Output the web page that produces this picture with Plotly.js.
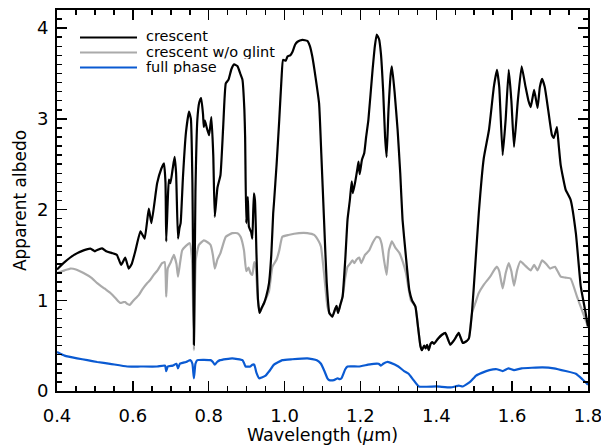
<!DOCTYPE html>
<html>
<head>
<meta charset="utf-8">
<script src="https://cdn.plot.ly/plotly-3.0.1.min.js"></script>
<style>html,body{margin:0;padding:0;background:#fff;}#chart{width:601px;height:445px;}</style>
</head>
<body>
<div id="chart"></div>
<script>
// crescent (with glint)
var wlCrescent = [0.400,0.420,0.445,0.470,0.488,0.500,0.506,0.519,0.530,0.545,0.558,0.569,0.580,0.589,0.597,0.607,0.620,0.631,0.642,0.649,0.664,0.675,0.682,0.686,0.688,0.692,0.695,0.699,0.705,0.710,0.714,0.719,0.723,0.726,0.732,0.740,0.748,0.753,0.757,0.761,0.765,0.770,0.775,0.780,0.785,0.787,0.790,0.795,0.801,0.807,0.812,0.816,0.823,0.831,0.838,0.845,0.852,0.860,0.867,0.876,0.883,0.889,0.894,0.896,0.899,0.903,0.906,0.912,0.915,0.919,0.922,0.926,0.930,0.934,0.940,0.946,0.952,0.959,0.965,0.970,0.972,0.979,0.986,0.992,0.996,1.003,1.008,1.015,1.021,1.028,1.034,1.047,1.060,1.067,1.073,1.082,1.091,1.097,1.104,1.111,1.118,1.126,1.133,1.137,1.141,1.147,1.153,1.160,1.166,1.172,1.177,1.180,1.186,1.192,1.195,1.198,1.204,1.210,1.215,1.221,1.232,1.238,1.243,1.249,1.254,1.260,1.265,1.269,1.274,1.280,1.283,1.290,1.298,1.305,1.311,1.320,1.329,1.336,1.345,1.352,1.358,1.362,1.368,1.372,1.376,1.380,1.385,1.389,1.394,1.405,1.415,1.424,1.430,1.437,1.447,1.459,1.465,1.470,1.480,1.486,1.494,1.503,1.512,1.525,1.539,1.552,1.560,1.566,1.575,1.583,1.591,1.598,1.605,1.615,1.625,1.635,1.643,1.649,1.658,1.667,1.673,1.679,1.686,1.695,1.705,1.710,1.718,1.723,1.728,1.741,1.754,1.768,1.781,1.792,1.800];
var albCrescent = [1.34,1.42,1.50,1.55,1.57,1.54,1.555,1.573,1.54,1.52,1.50,1.39,1.47,1.35,1.40,1.55,1.76,1.68,2.01,1.85,2.29,2.45,2.51,2.30,1.65,2.10,2.33,2.29,2.45,2.58,2.40,1.68,1.80,1.85,2.35,2.85,3.08,3.00,2.30,0.51,2.20,2.99,3.18,3.23,3.05,2.91,2.98,2.90,2.82,3.02,2.60,1.92,2.24,2.38,2.90,3.39,3.43,3.55,3.60,3.58,3.50,3.43,3.10,2.80,1.85,2.14,1.81,1.75,1.68,2.18,2.10,1.50,1.00,0.86,0.92,0.97,1.05,1.19,1.50,1.96,2.07,2.50,2.99,3.45,3.65,3.64,3.69,3.70,3.74,3.82,3.85,3.87,3.86,3.80,3.69,3.45,3.17,2.60,1.89,1.20,0.86,0.82,0.90,0.94,0.86,0.95,1.04,1.45,1.89,2.10,2.31,2.18,2.30,2.45,2.53,2.39,2.55,2.62,2.80,2.99,3.54,3.80,3.93,3.88,3.72,3.30,2.80,2.58,3.10,3.50,3.58,3.30,2.88,2.40,1.89,1.48,1.11,1.00,0.93,0.70,0.50,0.45,0.50,0.47,0.51,0.45,0.52,0.54,0.52,0.58,0.62,0.64,0.58,0.51,0.56,0.64,0.58,0.53,0.55,0.58,0.86,1.40,1.96,2.56,2.88,3.36,3.54,3.35,2.60,3.00,3.54,3.20,2.69,3.20,3.58,3.36,3.20,3.13,3.32,3.12,3.35,3.44,3.35,3.10,2.82,2.79,2.91,2.70,2.49,2.22,2.11,1.74,1.15,0.90,0.71];

// crescent without glint
var wlNoGlint = [0.400,0.420,0.435,0.450,0.470,0.490,0.506,0.525,0.541,0.555,0.567,0.575,0.580,0.585,0.592,0.600,0.616,0.625,0.638,0.645,0.655,0.665,0.677,0.684,0.688,0.692,0.700,0.708,0.715,0.719,0.724,0.730,0.740,0.750,0.756,0.761,0.766,0.774,0.787,0.797,0.805,0.811,0.816,0.823,0.831,0.845,0.862,0.876,0.884,0.893,0.899,0.905,0.910,0.915,0.920,0.924,0.928,0.934,0.946,0.959,0.968,0.979,0.986,0.994,1.010,1.038,1.060,1.078,1.090,1.096,1.104,1.113,1.118,1.126,1.133,1.137,1.141,1.147,1.153,1.160,1.166,1.172,1.179,1.184,1.190,1.197,1.202,1.212,1.223,1.233,1.243,1.250,1.256,1.262,1.269,1.275,1.283,1.292,1.303,1.312,1.320,1.333,1.345,1.352,1.358,1.362,1.368,1.372,1.376,1.380,1.385,1.389,1.394,1.405,1.415,1.424,1.430,1.437,1.447,1.459,1.465,1.470,1.480,1.486,1.494,1.503,1.512,1.525,1.542,1.552,1.560,1.566,1.575,1.583,1.591,1.598,1.605,1.613,1.622,1.635,1.649,1.658,1.667,1.679,1.690,1.700,1.713,1.720,1.728,1.741,1.754,1.771,1.785,1.800];
var albNoGlint = [1.30,1.33,1.35,1.34,1.30,1.25,1.19,1.13,1.08,1.02,0.97,0.98,0.98,0.96,0.95,0.99,1.06,1.12,1.19,1.22,1.28,1.33,1.41,1.42,1.04,1.35,1.42,1.50,1.40,1.26,1.40,1.55,1.60,1.63,1.45,0.45,1.45,1.61,1.66,1.64,1.61,1.50,1.35,1.45,1.52,1.70,1.74,1.74,1.70,1.55,1.32,1.36,1.30,1.28,1.42,1.37,1.10,0.86,0.97,1.10,1.37,1.45,1.55,1.70,1.72,1.74,1.74,1.72,1.65,1.59,1.30,0.93,0.86,0.82,0.90,0.94,0.86,0.95,1.04,1.25,1.37,1.40,1.44,1.41,1.45,1.47,1.41,1.50,1.55,1.64,1.70,1.69,1.62,1.45,1.28,1.55,1.65,1.58,1.52,1.42,1.30,1.00,0.93,0.70,0.50,0.45,0.50,0.47,0.51,0.45,0.52,0.54,0.52,0.58,0.62,0.64,0.58,0.51,0.56,0.64,0.58,0.53,0.55,0.58,0.86,0.97,1.08,1.17,1.26,1.33,1.37,1.32,1.13,1.30,1.41,1.32,1.16,1.33,1.43,1.38,1.33,1.39,1.33,1.44,1.40,1.35,1.37,1.32,1.26,1.25,1.24,1.04,0.88,0.71];

// full phase
var wlFull = [0.400,0.420,0.453,0.480,0.506,0.540,0.585,0.620,0.664,0.685,0.688,0.692,0.705,0.715,0.719,0.724,0.740,0.752,0.757,0.761,0.765,0.770,0.805,0.811,0.816,0.822,0.830,0.862,0.889,0.893,0.897,0.910,0.915,0.920,0.926,0.933,0.940,0.950,0.960,0.972,0.994,1.020,1.060,1.085,1.096,1.105,1.113,1.118,1.130,1.140,1.145,1.150,1.160,1.166,1.195,1.220,1.235,1.248,1.254,1.260,1.270,1.280,1.300,1.315,1.327,1.340,1.354,1.400,1.437,1.450,1.459,1.470,1.489,1.505,1.520,1.540,1.560,1.575,1.590,1.605,1.625,1.680,1.710,1.741,1.768,1.785,1.800];
var albFull = [0.43,0.39,0.36,0.34,0.32,0.30,0.27,0.27,0.27,0.28,0.22,0.27,0.28,0.30,0.25,0.30,0.32,0.34,0.30,0.14,0.30,0.34,0.34,0.32,0.29,0.32,0.34,0.36,0.34,0.31,0.27,0.27,0.29,0.29,0.20,0.14,0.15,0.17,0.22,0.29,0.34,0.35,0.36,0.34,0.30,0.22,0.14,0.12,0.12,0.14,0.13,0.14,0.24,0.27,0.27,0.29,0.30,0.30,0.28,0.30,0.32,0.31,0.27,0.22,0.19,0.12,0.05,0.05,0.04,0.05,0.06,0.05,0.10,0.17,0.20,0.23,0.24,0.22,0.25,0.23,0.25,0.26,0.25,0.22,0.19,0.13,0.07];

var seriesNames = ['crescent', 'crescent w/o glint', 'full phase'];
var seriesColors = ['#000000', '#aaaaaa', '#0a5ad2'];
var xTickVals = [0.4,0.6,0.8,1.0,1.2,1.4,1.6,1.8];
var xTickText = ['0.4','0.6','0.8','1.0','1.2','1.4','1.6','1.8'];
var yTickVals = [0,1,2,3,4];
var yTickText = ['0','1','2','3','4'];

var FONT = 'DejaVu Sans, Verdana, sans-serif';

function lineStyle(c){ return {color: c, width: 2.2, shape: 'spline', smoothing: 0.4}; }
var traces = [
  {x: wlNoGlint, y: albNoGlint, name: seriesNames[1], type: 'scatter', mode: 'lines', line: lineStyle(seriesColors[1])},
  {x: wlCrescent, y: albCrescent, name: seriesNames[0], type: 'scatter', mode: 'lines', line: lineStyle(seriesColors[0])},
  {x: wlFull, y: albFull, name: seriesNames[2], type: 'scatter', mode: 'lines', line: lineStyle(seriesColors[2])}
];

// manual legend (line samples + labels) in paper coordinates
var shapes = [], annotations = [];
var L = 57, R = 588, T = 10, B = 391;
function px2paperX(p){ return (p - L) / (R - L); }
function py2paperY(p){ return (B - p) / (B - T); }
var legendRows = [37.5, 52.5, 67.5];
for (var i = 0; i < 3; i++) {
  shapes.push({type: 'line', xref: 'paper', yref: 'paper',
    x0: px2paperX(80), x1: px2paperX(137), y0: py2paperY(legendRows[i]), y1: py2paperY(legendRows[i]),
    line: {color: seriesColors[i], width: 2.2}});
  annotations.push({xref: 'paper', yref: 'paper', x: px2paperX(145), y: py2paperY(legendRows[i] - 1),
    xanchor: 'left', yanchor: 'middle', text: seriesNames[i], showarrow: false,
    height: 14, borderpad: 0,
    font: {family: FONT, size: 14.5, color: '#000'}});
}

var axisCommon = {
  showgrid: false, zeroline: false, showline: true, linecolor: '#000', linewidth: 2,
  mirror: 'allticks', ticks: 'inside', ticklen: 10, tickwidth: 1.5, tickcolor: '#000',
  ticklabeloverflow: 'allow',
  tickfont: {family: FONT, size: 18, color: '#000'}
};

var layout = {
  width: 601, height: 445,
  margin: {l: L, r: 601 - R, t: T, b: 445 - B},
  paper_bgcolor: '#fff', plot_bgcolor: '#fff',
  showlegend: false,
  xaxis: Object.assign({}, axisCommon, {
    range: [0.4, 1.8], tickmode: 'array', tickvals: xTickVals, ticktext: xTickText,
    ticklabelstandoff: 7,
    minor: {dtick: 0.05, ticks: 'inside', ticklen: 5, tickwidth: 1.5, tickcolor: '#000'},
    title: {text: 'Wavelength (<i>μ</i>m)', font: {family: FONT, size: 17.5, color: '#000'}, standoff: 2}
  }),
  yaxis: Object.assign({}, axisCommon, {
    range: [0, 4.2], tickmode: 'array', tickvals: yTickVals, ticktext: yTickText,
    ticklabelstandoff: 3,
    minor: {dtick: 0.1, ticks: 'inside', ticklen: 5, tickwidth: 1.5, tickcolor: '#000'},
    title: {text: 'Apparent albedo', font: {family: FONT, size: 17, color: '#000'}, standoff: 6}
  }),
  shapes: shapes,
  annotations: annotations
};

Plotly.newPlot('chart', traces, layout, {displayModeBar: false, staticPlot: true});
</script>
</body>
</html>
